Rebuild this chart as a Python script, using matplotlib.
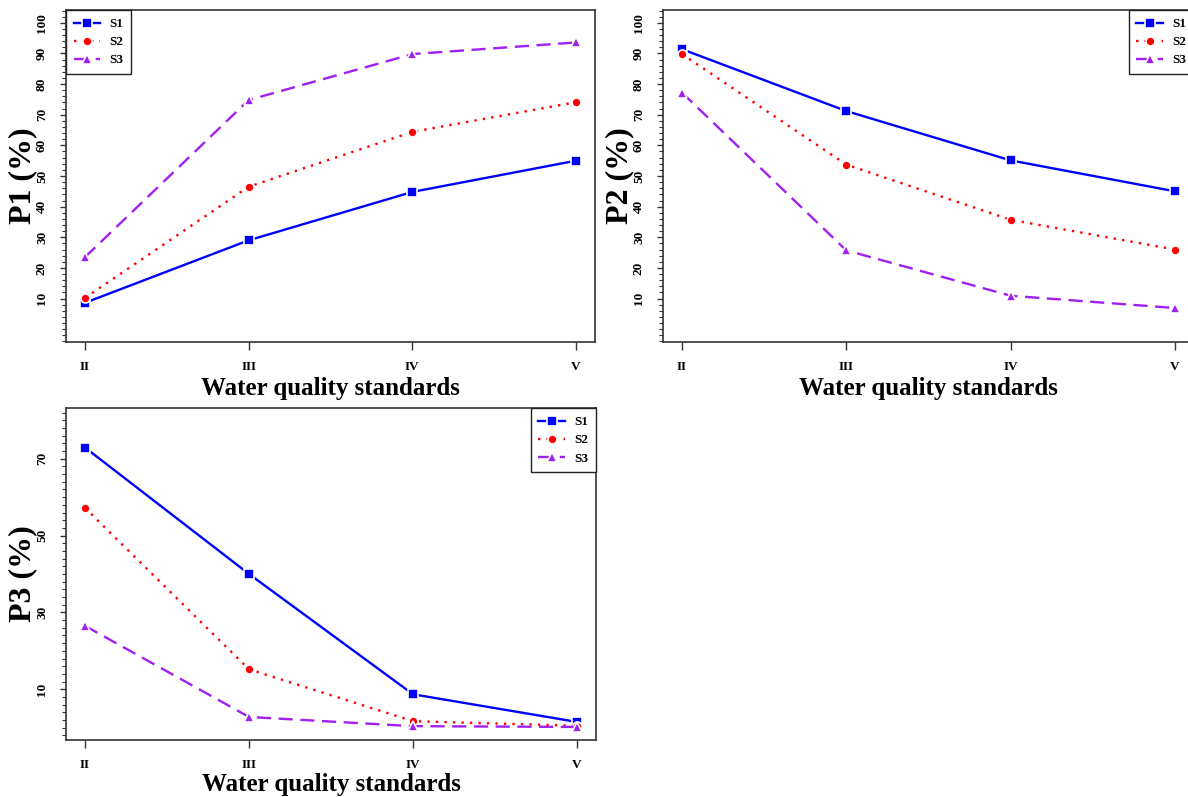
import matplotlib.pyplot as plt
from matplotlib.ticker import MultipleLocator, FixedLocator

plt.rcParams['font.family'] = ['Liberation Serif', 'DejaVu Serif']
plt.rcParams['font.weight'] = 'bold'

# water quality classes on the x axis
standards = ['II', 'III', 'IV', 'V']
xs = [1, 2, 3, 4]

# P1 (%) per scenario
p1_s1 = [8.6, 29.0, 44.8, 55.0]
p1_s2 = [10.2, 46.5, 64.4, 74.1]
p1_s3 = [23.5, 74.8, 89.8, 93.6]

# P2 (%) per scenario
p2_s1 = [91.4, 71.2, 55.1, 45.0]
p2_s2 = [89.8, 53.7, 35.7, 26.0]
p2_s3 = [77.2, 25.7, 10.9, 6.9]

# P3 (%) per scenario
p3_s1 = [72.9, 40.0, 8.7, 1.5]
p3_s2 = [57.2, 15.2, 1.7, 0.5]
p3_s3 = [26.5, 2.8, 0.4, 0.2]

series_names = ['S1', 'S2', 'S3']

W, H = 1188, 797
fig = plt.figure(figsize=(W / 100, H / 100), dpi=100)


def box(l, r, t, b):
    return [l / W, 1 - b / H, (r - l) / W, (b - t) / H]


styles = [
    dict(color='#0000FF', marker='s', linestyle='-', ms=6.5),
    dict(color='#FF0000', marker='o', linestyle=(0, (1.0, 2.6)), ms=6.5),
    dict(color='#A020F0', marker='^', linestyle=(0, (6.0, 3.2)), ms=7.5),
]


def panel(rect, series, ylabel, ylim, major, legend_loc, xlab_off):
    ax = fig.add_axes(rect)
    for vals, name, st in zip(series, series_names, styles):
        ax.plot(xs, vals, label=name, lw=1.7, mec='white', mew=1.2,
                marker=st['marker'], ms=st['ms'], color=st['color'],
                linestyle=st['linestyle'], dash_capstyle='butt')
    ax.set_xlim(0.884, 4.116)
    ax.set_ylim(*ylim)
    ax.set_xticks(xs)
    ax.set_xticklabels(standards)
    ax.yaxis.set_major_locator(FixedLocator(major))
    ax.yaxis.set_minor_locator(MultipleLocator(2))
    ax.tick_params(axis='x', length=6, width=1, pad=8, labelsize=9.5,
                   color='#333333')
    ax.tick_params(axis='y', which='major', length=4, width=1, pad=9,
                   labelsize=9.5, color='#333333')
    ax.tick_params(axis='y', which='minor', length=3, width=0.8,
                   color='#333333')
    for t in ax.get_yticklabels():
        t.set_rotation(90)
        t.set_va('center')
    for s in ax.spines.values():
        s.set_linewidth(1.2)
        s.set_color('#333333')
    ax.set_xlabel('Water quality standards', fontsize=18, fontweight='bold')
    ax.xaxis.label.set_va('center')
    ax.xaxis.set_label_coords(0.5, -xlab_off / (rect[3] * H))
    ax.set_ylabel(ylabel, fontsize=23, fontweight='bold')
    ax.yaxis.label.set_va('center')
    ax.yaxis.set_label_coords(-43 / (rect[2] * W), 0.5)
    leg = ax.legend(loc=legend_loc, frameon=True, fancybox=False,
                    edgecolor='#222222', framealpha=1, borderaxespad=0,
                    handlelength=2.0, handletextpad=0.7, borderpad=0.6,
                    labelspacing=0.45, prop={'weight': 'bold', 'size': 9.5})
    leg.get_frame().set_linewidth(1.0)
    return ax


panel(box(66, 595, 10, 342), [p1_s1, p1_s2, p1_s3], 'P1 (%)',
      (-4.2, 104.2), list(range(10, 101, 10)), 'upper left', 46)
panel(box(663, 1194, 10, 342), [p2_s1, p2_s2, p2_s3], 'P2 (%)',
      (-4.2, 104.2), list(range(10, 101, 10)), 'upper right', 46)
panel(box(66, 596, 408, 740), [p3_s1, p3_s2, p3_s3], 'P3 (%)',
      (-3.2, 83.2), [10, 30, 50, 70], 'upper right', 45)

fig.savefig('out.png', dpi=100)
